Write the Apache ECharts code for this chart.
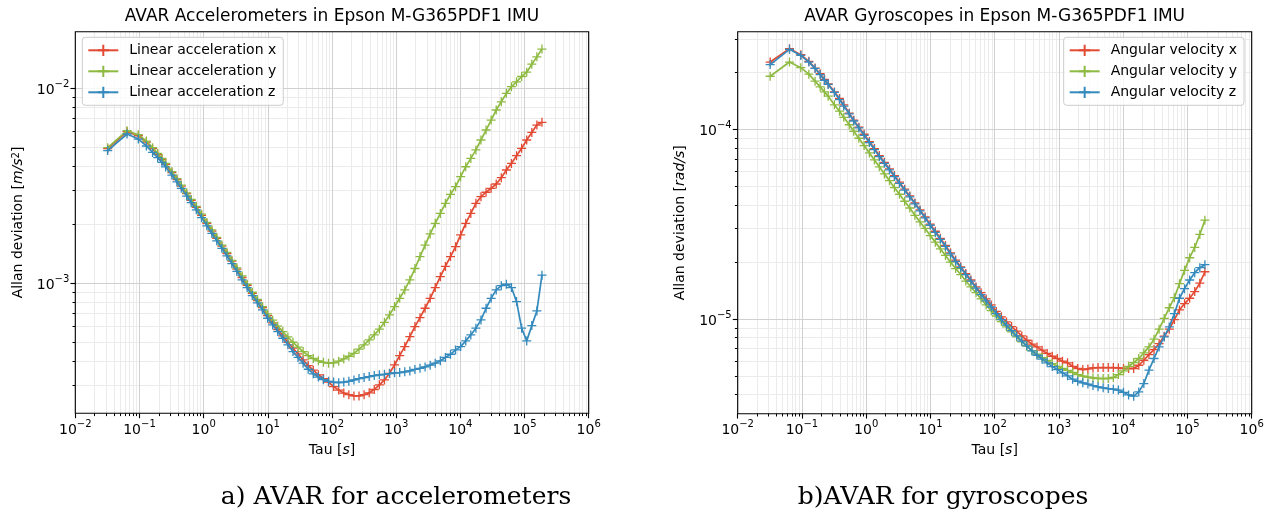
<!DOCTYPE html>
<html>
<head>
<meta charset="utf-8">
<script src="https://cdn.jsdelivr.net/npm/echarts@6/dist/echarts.min.js"></script>
<style>
html,body{margin:0;padding:0;background:#ffffff;}
#chart{width:1272px;height:514px;}
</style>
</head>
<body>
<div id="chart"></div>
<script>
// ---------------- data ----------------
// averaging time tau [s]
const tau = [0.032,0.064,0.096,0.128,0.16,0.192,0.224,0.256,0.32,0.384,0.448,0.544,0.64,0.768,0.928,1.12,1.344,1.6,1.92,2.304,2.752,3.296,3.968,4.768,5.728,6.88,8.256,9.92,11.9,14.27,17.12,20.54,24.64,29.57,35.49,42.59,51.1,61.31,73.6,88.32,106.0,127.2,152.6,183.1,219.8,263.7,316.4,379.7,455.7,546.8,656.2,787.4,944.9,1134,1361,1633,1959,2351,2822,3386,4063,4876,5851,7021,8425,10110,12132,14558,17470,20964,25157,30188,36226,43471,52165,62598,75118,90141,108170,129804,155764,186917];

// Allan deviation, accelerometers [m/s^2]
const accX = [4.90e-3,5.99e-3,5.71e-3,5.30e-3,4.90e-3,4.58e-3,4.32e-3,4.07e-3,3.69e-3,3.40e-3,
3.15e-3,2.88e-3,2.66e-3,2.45e-3,2.23e-3,2.03e-3,1.85e-3,1.70e-3,1.55e-3,1.42e-3,
1.30e-3,1.18e-3,1.07e-3,9.76e-4,8.88e-4,8.15e-4,7.50e-4,6.82e-4,6.26e-4,5.79e-4,
5.37e-4,4.98e-4,4.64e-4,4.34e-4,4.04e-4,3.78e-4,3.58e-4,3.39e-4,3.24e-4,3.11e-4,
2.95e-4,2.83e-4,2.73e-4,2.68e-4,2.64e-4,2.64e-4,2.68e-4,2.74e-4,2.85e-4,3.01e-4,
3.19e-4,3.45e-4,3.81e-4,4.25e-4,4.73e-4,5.32e-4,5.99e-4,6.66e-4,7.44e-4,8.37e-4,
9.50e-4,1.08e-3,1.22e-3,1.37e-3,1.54e-3,1.77e-3,2.03e-3,2.28e-3,2.57e-3,2.78e-3,
2.93e-3,3.07e-3,3.23e-3,3.48e-3,3.81e-3,4.12e-3,4.51e-3,4.92e-3,5.43e-3,5.94e-3,
6.48e-3,6.69e-3];
const accY = [4.96e-3,6.06e-3,5.78e-3,5.36e-3,4.96e-3,4.64e-3,4.37e-3,4.12e-3,3.74e-3,3.44e-3,
3.19e-3,2.91e-3,2.69e-3,2.48e-3,2.26e-3,2.05e-3,1.88e-3,1.72e-3,1.57e-3,1.44e-3,
1.31e-3,1.20e-3,1.09e-3,9.88e-4,8.99e-4,8.25e-4,7.59e-4,6.96e-4,6.46e-4,6.02e-4,
5.65e-4,5.30e-4,4.98e-4,4.70e-4,4.46e-4,4.25e-4,4.11e-4,4.00e-4,3.93e-4,3.89e-4,
3.90e-4,3.98e-4,4.09e-4,4.22e-4,4.37e-4,4.59e-4,4.83e-4,5.12e-4,5.43e-4,5.81e-4,
6.30e-4,6.88e-4,7.59e-4,8.37e-4,9.24e-4,1.04e-3,1.19e-3,1.37e-3,1.57e-3,1.79e-3,
2.03e-3,2.28e-3,2.57e-3,2.86e-3,3.13e-3,3.52e-3,3.96e-3,4.37e-3,4.83e-3,5.43e-3,
6.11e-3,6.87e-3,7.74e-3,8.53e-3,9.42e-3,1.02e-2,1.08e-2,1.15e-2,1.21e-2,1.33e-2,
1.45e-2,1.59e-2];
const accZ = [4.79e-3,5.83e-3,5.49e-3,5.06e-3,4.69e-3,4.41e-3,4.17e-3,3.95e-3,3.59e-3,3.31e-3,
3.07e-3,2.80e-3,2.59e-3,2.38e-3,2.17e-3,1.97e-3,1.80e-3,1.65e-3,1.51e-3,1.38e-3,
1.26e-3,1.15e-3,1.04e-3,9.50e-4,8.64e-4,7.93e-4,7.30e-4,6.61e-4,6.11e-4,5.65e-4,
5.22e-4,4.83e-4,4.46e-4,4.16e-4,3.89e-4,3.62e-4,3.43e-4,3.30e-4,3.20e-4,3.14e-4,
3.11e-4,3.09e-4,3.11e-4,3.14e-4,3.19e-4,3.24e-4,3.28e-4,3.32e-4,3.36e-4,3.39e-4,
3.41e-4,3.44e-4,3.47e-4,3.48e-4,3.51e-4,3.55e-4,3.61e-4,3.66e-4,3.72e-4,3.80e-4,
3.89e-4,4.00e-4,4.16e-4,4.32e-4,4.55e-4,4.73e-4,5.06e-4,5.43e-4,5.88e-4,6.48e-4,
7.44e-4,8.37e-4,9.24e-4,9.72e-4,9.88e-4,9.50e-4,8.05e-4,5.88e-4,5.06e-4,6.06e-4,
7.21e-4,1.10e-3];

// Allan deviation, gyroscopes [rad/s]
const gyroX = [2.27e-4,2.67e-4,2.48e-4,2.29e-4,2.11e-4,1.97e-4,1.84e-4,1.74e-4,1.58e-4,1.46e-4,
1.35e-4,1.22e-4,1.12e-4,1.03e-4,9.45e-5,8.64e-5,7.94e-5,7.29e-5,6.72e-5,6.20e-5,
5.72e-5,5.28e-5,4.85e-5,4.47e-5,4.10e-5,3.77e-5,3.46e-5,3.17e-5,2.91e-5,2.67e-5,
2.45e-5,2.24e-5,2.05e-5,1.89e-5,1.74e-5,1.61e-5,1.48e-5,1.38e-5,1.28e-5,1.19e-5,
1.10e-5,1.03e-5,9.68e-6,9.15e-6,8.65e-6,8.17e-6,7.75e-6,7.39e-6,7.15e-6,6.87e-6,
6.60e-6,6.38e-6,6.21e-6,6.01e-6,5.89e-6,5.65e-6,5.50e-6,5.43e-6,5.47e-6,5.54e-6,
5.56e-6,5.56e-6,5.56e-6,5.56e-6,5.54e-6,5.50e-6,5.50e-6,5.50e-6,5.72e-6,6.08e-6,
6.51e-6,6.92e-6,7.44e-6,8.14e-6,8.86e-6,9.96e-6,1.12e-5,1.21e-5,1.29e-5,1.40e-5,
1.55e-5,1.78e-5];
const gyroY = [1.91e-4,2.27e-4,2.12e-4,1.96e-4,1.80e-4,1.68e-4,1.58e-4,1.50e-4,1.35e-4,1.25e-4,
1.16e-4,1.06e-4,9.80e-5,9.00e-5,8.23e-5,7.53e-5,6.92e-5,6.36e-5,5.84e-5,5.38e-5,
4.94e-5,4.56e-5,4.19e-5,3.86e-5,3.53e-5,3.26e-5,3.01e-5,2.76e-5,2.55e-5,2.35e-5,
2.17e-5,2.00e-5,1.85e-5,1.72e-5,1.59e-5,1.48e-5,1.38e-5,1.28e-5,1.19e-5,1.11e-5,
1.04e-5,9.72e-6,9.11e-6,8.58e-6,8.07e-6,7.60e-6,7.21e-6,6.84e-6,6.54e-6,6.28e-6,
6.06e-6,5.84e-6,5.65e-6,5.50e-6,5.37e-6,5.24e-6,5.11e-6,5.01e-6,4.95e-6,4.91e-6,
4.87e-6,4.87e-6,4.87e-6,4.93e-6,5.11e-6,5.34e-6,5.65e-6,5.91e-6,6.21e-6,6.65e-6,
7.15e-6,7.85e-6,8.86e-6,1.01e-5,1.15e-5,1.30e-5,1.54e-5,1.81e-5,2.11e-5,2.39e-5,
2.80e-5,3.33e-5];
const gyroZ = [2.20e-4,2.65e-4,2.46e-4,2.27e-4,2.10e-4,1.95e-4,1.82e-4,1.73e-4,1.57e-4,1.44e-4,
1.33e-4,1.21e-4,1.11e-4,1.02e-4,9.33e-5,8.54e-5,7.84e-5,7.20e-5,6.64e-5,6.13e-5,
5.65e-5,5.21e-5,4.79e-5,4.42e-5,4.06e-5,3.73e-5,3.42e-5,3.13e-5,2.87e-5,2.64e-5,
2.42e-5,2.21e-5,2.02e-5,1.87e-5,1.72e-5,1.59e-5,1.46e-5,1.35e-5,1.25e-5,1.16e-5,
1.07e-5,9.96e-6,9.30e-6,8.72e-6,8.17e-6,7.66e-6,7.24e-6,6.81e-6,6.46e-6,6.16e-6,
5.89e-6,5.63e-6,5.43e-6,5.22e-6,5.03e-6,4.83e-6,4.71e-6,4.62e-6,4.55e-6,4.47e-6,
4.40e-6,4.35e-6,4.31e-6,4.28e-6,4.23e-6,4.12e-6,3.99e-6,3.93e-6,4.14e-6,4.58e-6,
5.39e-6,6.21e-6,7.15e-6,8.07e-6,9.11e-6,1.07e-5,1.29e-5,1.45e-5,1.61e-5,1.76e-5,
1.87e-5,1.94e-5];

const accNames  = ['Linear acceleration x','Linear acceleration y','Linear acceleration z'];
const gyroNames = ['Angular velocity x','Angular velocity y','Angular velocity z'];
const titles = ['AVAR Accelerometers in Epson M-G365PDF1 IMU','AVAR Gyroscopes in Epson M-G365PDF1 IMU'];
const captions = ['a) AVAR for accelerometers','b)AVAR for gyroscopes'];

// tick labels (powers of ten)
const xTickExps = [-2,-1,0,1,2,3,4,5,6];
const accYTickExps = [-3,-2];
const gyroYTickExps = [-5,-4];

// axis ranges (log-scaled axes)
const X_MIN = 1e-2, X_MAX = 1e6;
const ACC_Y_MIN = 2.151e-4, ACC_Y_MAX = 1.952e-2;
const GYRO_Y_MIN = 3.177e-6, GYRO_Y_MAX = 3.281e-4;

// ---------------- styling ----------------
const FONT = '"DejaVu Sans", sans-serif';
const COLORS = ['#E24A33','#8EBA42','#348ABD'];
const MAJOR_GRID = '#d0d0d0';
const MINOR_GRID = '#ebebeb';
const PLUS = 'path://M5,0L5,10M0,5L10,5';

const GRIDS = [
  {left:75.3, top:31.7, width:513.4, height:381.6},
  {left:737.7, top:31.7, width:514, height:382}
];

function minorLogs(lo, hi){
  const out=[];
  for(let n=Math.floor(Math.log10(lo)); n<=Math.ceil(Math.log10(hi)); n++){
    for(let k=2;k<=9;k++){ const v=k*Math.pow(10,n); if(v>lo && v<hi) out.push(Math.log10(v)); }
  }
  return out;
}
function expLabel(v){
  const e=Math.round(v);
  return '{b|10}{s|'+(e<0?'\u2212'+(-e):String(e))+'}';
}
const expRich = {
  b:{fontSize:14, fontFamily:FONT, color:'#000', padding:[4,0,0,0]},
  s:{fontSize:10, fontFamily:FONT, color:'#000', verticalAlign:'top'}
};
const nameRich = {
  i:{fontSize:14, fontFamily:FONT, color:'#000', fontStyle:'italic'},
  si:{fontSize:10, fontFamily:FONT, color:'#000', fontStyle:'normal', verticalAlign:'top'}
};

const xAxes=[], yAxes=[], series=[], legends=[], graphics=[];

function addPanel(gi, yMin, yMax, yExps, yName, names, datasets, legendPos){
  const xLo=Math.log10(X_MIN), xHi=Math.log10(X_MAX);
  const yLo=Math.log10(yMin), yHi=Math.log10(yMax);
  // data axes (library log scale)
  xAxes.push({type:'log', logBase:10, gridIndex:gi, min:X_MIN, max:X_MAX, show:false, position:'bottom', axisLine:{onZero:false}});
  yAxes.push({type:'log', logBase:10, gridIndex:gi, min:yMin, max:yMax, show:false, position:'left', axisLine:{onZero:false}});
  // minor grid / ticks
  xAxes.push({type:'value', gridIndex:gi, min:xLo, max:xHi, position:'bottom', z:0,
    axisLine:{show:false, onZero:false},
    axisTick:{show:true, length:2.8, lineStyle:{color:'#000', width:1}, customValues:minorLogs(X_MIN,X_MAX)},
    axisLabel:{show:false},
    splitLine:{show:true, lineStyle:{color:MINOR_GRID, width:1}}
  });
  yAxes.push({type:'value', gridIndex:gi, min:yLo, max:yHi, position:'left', z:0,
    axisLine:{show:false, onZero:false},
    axisTick:{show:true, length:2.8, lineStyle:{color:'#000', width:1}, customValues:minorLogs(yMin,yMax)},
    axisLabel:{show:false},
    splitLine:{show:true, lineStyle:{color:MINOR_GRID, width:1}}
  });
  // major grid / ticks / labels
  xAxes.push({type:'value', gridIndex:gi, min:xLo, max:xHi, position:'bottom', z:1,
    axisLine:{show:false, onZero:false},
    axisTick:{show:true, length:4.9, lineStyle:{color:'#000', width:1.1}, customValues:xTickExps},
    axisLabel:{customValues:xTickExps, formatter:expLabel, rich:expRich, margin:6},
    splitLine:{show:true, lineStyle:{color:MAJOR_GRID, width:1}},
    name:'Tau [{i|s}]', nameLocation:'middle', nameGap:30,
    nameTextStyle:{fontSize:14, fontFamily:FONT, color:'#000', rich:nameRich}
  });
  yAxes.push({type:'value', gridIndex:gi, min:yLo, max:yHi, position:'left', z:1,
    axisLine:{show:false, onZero:false},
    axisTick:{show:true, length:4.9, lineStyle:{color:'#000', width:1.1}, customValues:yExps},
    axisLabel:{customValues:yExps, formatter:expLabel, rich:expRich, margin:6},
    splitLine:{show:true, lineStyle:{color:MAJOR_GRID, width:1}},
    name:yName, nameLocation:'middle', nameGap:50,
    nameTextStyle:{fontSize:14, fontFamily:FONT, color:'#000', rich:nameRich}
  });
  const ai = gi*3;
  names.forEach((nm, k)=>{
    series.push({
      type:'line', name:nm, xAxisIndex:ai, yAxisIndex:ai,
      data: tau.map((t,i)=>[t, datasets[k][i]]),
      symbol:PLUS, symbolSize:9, showSymbol:true,
      lineStyle:{color:COLORS[k], width:1.7},
      itemStyle:{color:COLORS[k], borderColor:COLORS[k], borderWidth:1.3},
      emphasis:{disabled:true}, silent:true, z:2+k
    });
  });
  legends.push(Object.assign({
    data:names, orient:'vertical', top:37.3,
    itemWidth:30, itemHeight:14, itemGap:7,
    padding:[6,7,6,5],
    backgroundColor:'rgba(255,255,255,0.8)', borderColor:'#cccccc', borderWidth:1, borderRadius:3,
    textStyle:{fontSize:14, fontFamily:FONT, color:'#000', padding:[0,0,0,6]},
    selectedMode:false, z:20
  }, legendPos));
}

addPanel(0, ACC_Y_MIN, ACC_Y_MAX, accYTickExps, 'Allan deviation [{i|m/s}{si|2}]', accNames, [accX,accY,accZ], {left:82.3});
addPanel(1, GYRO_Y_MIN, GYRO_Y_MAX, gyroYTickExps, 'Allan deviation [{i|rad/s}]', gyroNames, [gyroX,gyroY,gyroZ], {right:28});

// titles and captions
const titleX = [332, 994.7];
titles.forEach((t,i)=>graphics.push({type:'text', x:titleX[i], y:17, z:30,
  style:{text:t, fill:'#000', font:'17px "DejaVu Sans"', align:'center', verticalAlign:'middle'}}));
const capX = [396, 943];
captions.forEach((t,i)=>graphics.push({type:'text', x:capX[i], y:497, z:30,
  style:{text:t, fill:'#000', font:'25px "DejaVu Serif"', align:'center', verticalAlign:'middle'}}));

const chart = echarts.init(document.getElementById('chart'), null, {renderer:'canvas'});
chart.setOption({
  animation:false,
  backgroundColor:'#ffffff',
  grid: GRIDS.map(g=>Object.assign({show:true, borderColor:'#000', borderWidth:1.1, backgroundColor:'transparent', z:10}, g)),
  xAxis:xAxes,
  yAxis:yAxes,
  legend:legends,
  series:series,
  graphic:graphics
});
</script>
</body>
</html>
